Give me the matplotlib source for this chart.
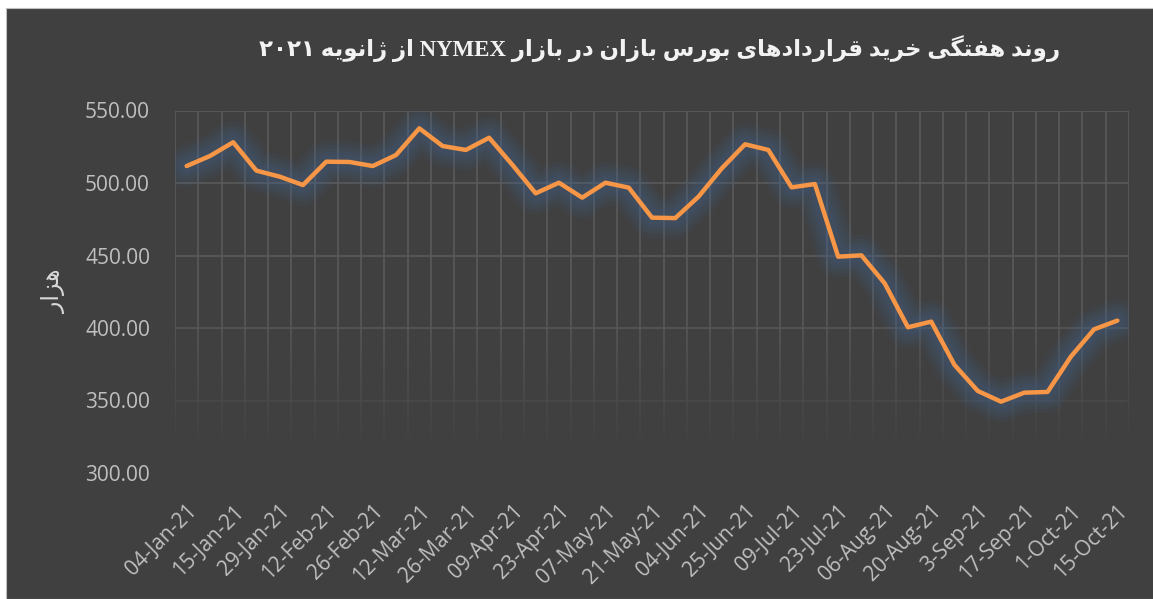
import numpy as np
import matplotlib
matplotlib.use("Agg")
import matplotlib.pyplot as plt
from matplotlib.patches import Rectangle

# weekly values (thousand contracts), one per week
values = [511.7, 518.6, 528.1, 508.5, 504.4, 498.6, 514.7, 514.5, 511.7, 519.3,
          537.7, 525.5, 522.8, 531.2, 512.5, 492.9, 500.2, 489.9, 500.2, 496.8,
          476.1, 475.8, 490.6, 510.1, 526.7, 522.8, 497.0, 499.3, 449.2, 450.1,
          430.8, 400.5, 404.4, 374.5, 356.6, 349.2, 355.4, 355.9, 380.2, 399.1,
          405.1]
# labels shown on every second week
tick_labels = ['04-Jan-21', '15-Jan-21', '29-Jan-21', '12-Feb-21', '26-Feb-21',
               '12-Mar-21', '26-Mar-21', '09-Apr-21', '23-Apr-21', '07-May-21',
               '21-May-21', '04-Jun-21', '25-Jun-21', '09-Jul-21', '23-Jul-21',
               '06-Aug-21', '20-Aug-21', '3-Sep-21', '17-Sep-21', '1-Oct-21',
               '15-Oct-21']
y_ticks = [300, 350, 400, 450, 500, 550]

title_fa = 'روند هفتگی خرید قراردادهای بورس بازان در بازار NYMEX از ژانویه ۲۰۲۱'
ylabel_fa = 'هزار'

# --- tiny Persian shaper (matplotlib does no Arabic shaping / bidi) ---
FORMS = {
    'ا': ('\uFE8D', '\uFE8E'), 'د': ('\uFEA9', '\uFEAA'), 'ر': ('\uFEAD', '\uFEAE'),
    'ز': ('\uFEAF', '\uFEB0'), 'ژ': ('\uFB8A', '\uFB8B'), 'و': ('\uFEED', '\uFEEE'),
    'ب': ('\uFE8F', '\uFE90', '\uFE91', '\uFE92'),
    'ت': ('\uFE95', '\uFE96', '\uFE97', '\uFE98'),
    'خ': ('\uFEA5', '\uFEA6', '\uFEA7', '\uFEA8'),
    'س': ('\uFEB1', '\uFEB2', '\uFEB3', '\uFEB4'),
    'ف': ('\uFED1', '\uFED2', '\uFED3', '\uFED4'),
    'ق': ('\uFED5', '\uFED6', '\uFED7', '\uFED8'),
    'گ': ('\uFB92', '\uFB93', '\uFB94', '\uFB95'),
    'ن': ('\uFEE5', '\uFEE6', '\uFEE7', '\uFEE8'),
    'ه': ('\uFEE9', '\uFEEA', '\uFEEB', '\uFEEC'),
    'ی': ('\uFBFC', '\uFBFD', '\uFBFE', '\uFBFF'),
}


def shape_word(w):
    out = []
    for i, c in enumerate(w):
        if c not in FORMS:
            out.append(c)
            continue
        f = FORMS[c]
        prev = w[i - 1] if i > 0 else None
        nxt = w[i + 1] if i < len(w) - 1 else None
        jp = prev in FORMS and len(FORMS[prev]) == 4
        jn = len(f) == 4 and nxt in FORMS
        if jp and jn:
            out.append(f[3])
        elif jp:
            out.append(f[1])
        elif jn:
            out.append(f[2])
        else:
            out.append(f[0])
    return ''.join(out)


def fa(text):
    words = []
    for w in text.split(' '):
        if any(c in FORMS for c in w):
            words.append(shape_word(w)[::-1])
        else:
            words.append(w)
    return ' '.join(words[::-1])


fig = plt.figure(figsize=(11.53, 5.99), dpi=100, facecolor='white')
fig.patches.append(Rectangle((6 / 1153, 0), 1, 1 - 8 / 599, transform=fig.transFigure,
                             facecolor='#404040', edgecolor='#bfbfbf', lw=0.8, zorder=-5))

ax = fig.add_axes([175 / 1153, 1 - 473 / 599, 954 / 1153, 362.5 / 599])
ax.set_zorder(2)
ax.set_facecolor('#404040')
for s in ax.spines.values():
    s.set_visible(False)

x = np.arange(len(values))

# grid between categories
ax.set_xticks(np.arange(-0.5, len(values), 1), minor=True)
ax.set_yticks(y_ticks)
ax.grid(True, which='minor', axis='x', color='#5a5a5a', lw=1.2)
ax.grid(True, which='major', axis='y', color='#5a5a5a', lw=1.2)
ax.tick_params(which='both', length=0)

# fade grid towards the bottom
grad = np.zeros((100, 1, 4))
grad[..., 0] = grad[..., 1] = grad[..., 2] = 0x40 / 255
grad[:, 0, 3] = np.clip(np.linspace(1.15, -0.3, 100), 0, 0.97)
ax.imshow(grad, extent=(-0.5, len(values) - 0.5, 300, 440), aspect='auto',
          origin='lower', zorder=1.8)

# glow
for w in [30, 24, 19, 14, 10]:
    ax.plot(x, values, color='#3f6a98', alpha=0.09, lw=w, solid_joinstyle='round',
            solid_capstyle='round', zorder=2)
ax.plot(x, values, color='#f79646', lw=3.2, zorder=3, solid_capstyle='round')

ax.set_xlim(-0.5, len(values) - 0.5)
ax.set_ylim(300, 550)

ax.set_xticks(x[::2])
ax.set_xticklabels(tick_labels, rotation=45, ha='right', va='top',
                   rotation_mode='anchor', fontsize=15, color='#bfbfbf',
                   family='Open Sans')
ax.tick_params(axis='x', pad=20)
ax.set_yticklabels(['%.2f' % v for v in y_ticks], fontsize=15, color='#bfbfbf',
                   family='Open Sans')
ax.tick_params(axis='y', pad=18)

fig.text(660 / 1153, 1 - 49 / 599, fa(title_fa), ha='center', va='center',
         fontsize=16.5, fontweight='bold', color='#f2f2f2',
         family=['Liberation Serif', 'DejaVu Sans'])
fig.text(54 / 1153, 1 - 291 / 599, fa(ylabel_fa), ha='center', va='center',
         rotation=90, fontsize=17, color='#d9d9d9',
         family=['Liberation Serif', 'DejaVu Sans'])

fig.savefig('out.png', dpi=100, facecolor=fig.get_facecolor())
